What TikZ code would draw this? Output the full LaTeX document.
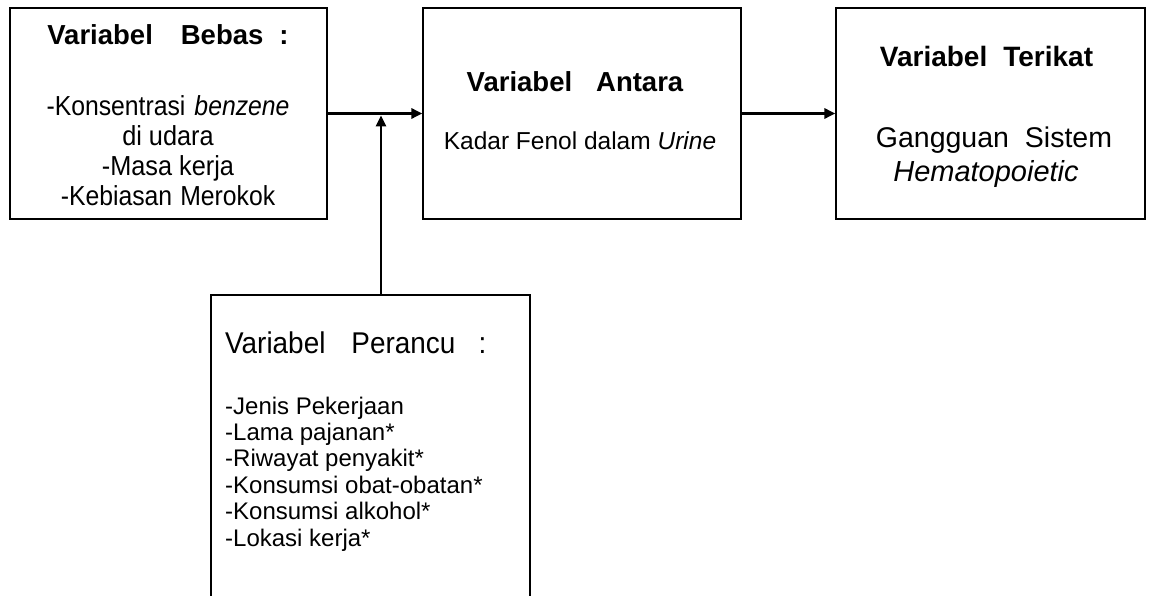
\documentclass[tikz,border=0pt]{standalone}
\usepackage{fontspec}
\setmainfont{Liberation Sans}
\usetikzlibrary{arrows.meta}
\begin{document}
\begin{tikzpicture}[x=1pt,y=-1pt,
  box/.style={draw=black,line width=1.2pt,rectangle,inner sep=0pt},
  ttl/.style={anchor=base,inner sep=0pt,font=\bfseries\fontsize{27.5}{30}\selectfont},
  txt/.style={anchor=base,inner sep=0pt,font=\fontsize{27.5}{30}\selectfont},
  conn/.style={line width=2.8pt,-{Triangle[length=11pt,width=10pt]}}]
\useasboundingbox (0,0) rectangle (1156,596);
\clip (0,0) rectangle (1156,596);
% boxes
\node[box,minimum width=317pt,minimum height=211pt] (bebas) at (168.5,113.5) {};
\node[box,minimum width=318pt,minimum height=211pt] (antara) at (582,113.5) {};
\node[box,minimum width=309pt,minimum height=211pt] (terikat) at (990.5,113.5) {};
\node[box,minimum width=319pt,minimum height=330pt] (perancu) at (370.5,460) {};
% box 1 text
\node[ttl] (t1) at (168,45) {Variabel\hspace{28pt}Bebas\hspace{16pt}:};
\node[txt,xscale=0.9] (b1) at (168,116) {-Konsentrasi\hspace{10pt}\textit{benzene}};
\node[txt,xscale=0.92] (b2) at (168,146) {di udara};
\node[txt,xscale=0.92] (b3) at (168,176) {-Masa kerja};
\node[txt,xscale=0.9] (b4) at (168,206) {-Kebiasan\hspace{9pt}Merokok};
% box 2 text
\node[ttl] (t2) at (575,91.5) {Variabel\hspace{24pt}Antara};
\node[txt,font=\fontsize{24.5}{28}\selectfont] (a1) at (580,150) {Kadar Fenol dalam \textit{Urine}};
% box 3 text
\node[ttl,font=\bfseries\fontsize{28}{30}\selectfont] (t3) at (986.5,67) {Variabel\hspace{16pt}Terikat};
\node[txt,font=\fontsize{28.5}{30}\selectfont] (g1) at (994,148) {Gangguan\hspace{16pt}Sistem};
\node[txt,font=\fontsize{29}{30}\selectfont] (g2) at (986,182) {\textit{Hematopoietic}};
% box 4 text
\node[txt,anchor=base west,xscale=0.93,font=\fontsize{30}{32}\selectfont] (t4) at (225,353) {Variabel\hspace{28pt}Perancu\hspace{25pt}:};
\node[txt,anchor=base west,font=\fontsize{24}{28}\selectfont] (p1) at (225,414) {-Jenis Pekerjaan};
\node[txt,anchor=base west,font=\fontsize{24}{28}\selectfont] (p2) at (225,440.4) {-Lama pajanan*};
\node[txt,anchor=base west,font=\fontsize{24}{28}\selectfont] (p3) at (225,466.8) {-Riwayat penyakit*};
\node[txt,anchor=base west,font=\fontsize{24}{28}\selectfont] (p4) at (225,493.2) {-Konsumsi obat-obatan*};
\node[txt,anchor=base west,font=\fontsize{24}{28}\selectfont] (p5) at (225,519.6) {-Konsumsi alkohol*};
\node[txt,anchor=base west,font=\fontsize{24}{28}\selectfont] (p6) at (225,546) {-Lokasi kerja*};
% connectors
\coordinate (j) at (381,114);
\draw[conn] (bebas.east) -- (antara.west);
\draw[conn] (antara.east) -- (terikat.west);
\draw[conn] (perancu.north -| j) -- ([yshift=-1.4pt]j);
\end{tikzpicture}
\end{document}
